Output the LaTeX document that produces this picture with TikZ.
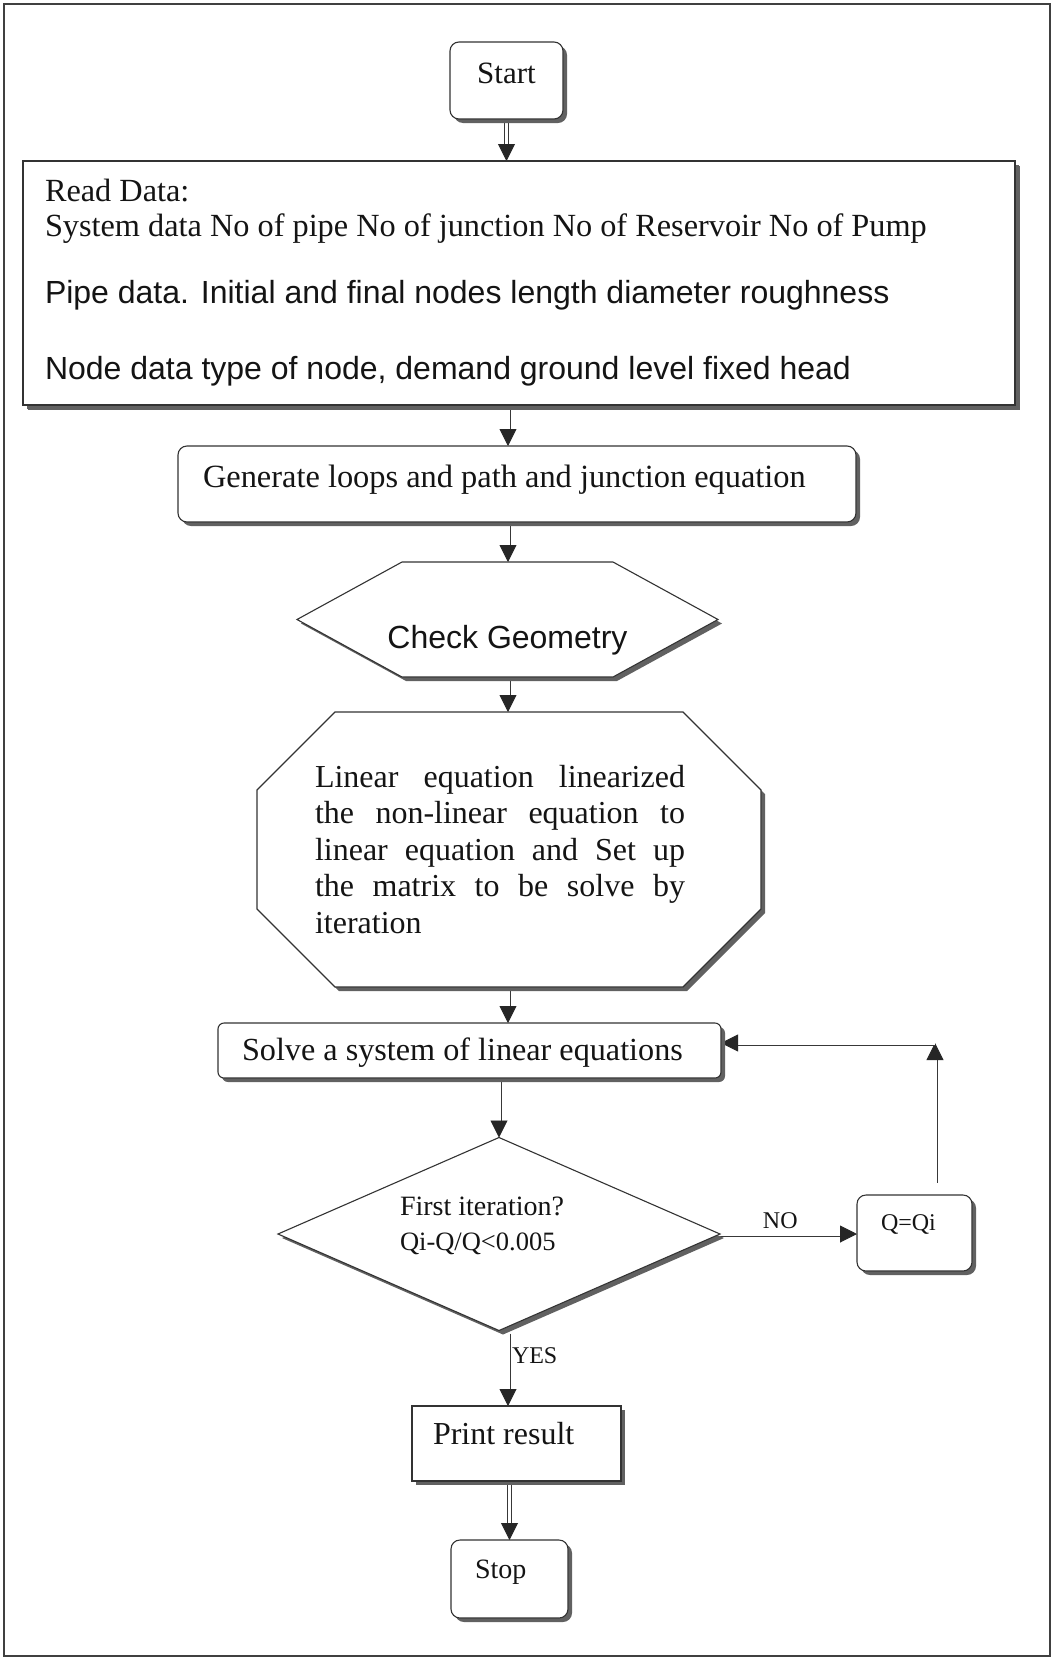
\documentclass[tikz,border=0pt]{standalone}
\usepackage{fontspec}
\setmainfont{Liberation Serif}
\newfontfamily\arialfont{Liberation Sans}
\usetikzlibrary{arrows.meta,shapes.geometric,shadows,backgrounds}
\newcommand\fsz[1]{\fontsize{#1}{#1}\selectfont}

\begin{document}
\begin{tikzpicture}[x=1pt,y=-1pt,
  every node/.style={inner sep=0pt, outer sep=0pt, text=black!92},
  castshadow/.style={drop shadow={shadow xshift=#1, shadow yshift=-#1, opacity=1, fill=black!62}},
  castshadow/.default=4pt,
  box/.style={draw=black!80, line width=1.1pt, fill=white, castshadow},
  rbox/.style={box, rounded corners=#1},
  rbox/.default=9pt,
  poly/.style={draw=black!80, line width=1.1pt, fill=white, castshadow},
  flow/.style={draw=white, line width=0.9pt,
    -{Triangle[length=17pt,width=17pt,color=black!85]},
    preaction={draw=black!78, -, double=white, double distance=3.2pt,
      line width=0.9pt, shorten >=10pt}},
  lbl/.style={font=\fsz{24}}
]
\useasboundingbox (0,0) rectangle (1053,1660);

% outer frame
\draw[black!75, line width=2pt] (4,4) rectangle (1050,1656);

\coordinate (axis) at (508,0);
\coordinate (turn) at (935,1043);

% terminals and process boxes
\node[rbox, minimum width=113pt, minimum height=77pt, font=\fsz{31},
      text height=21pt, text depth=16pt] (start) at (506.5,80.5) {Start};

\node[box, castshadow=5pt, minimum width=992pt, minimum height=244pt] (read) at (519,283) {};
\node[anchor=base west, font=\fsz{32.3}] (rd1) at (45,201) {Read Data:};
\node[anchor=base west, font=\fsz{32.3}] (rd2) at (45,236)
  {System data No of pipe No of junction No of Reservoir No of Pump};
\node[anchor=base west, font=\arialfont\fsz{32}] (rd3) at (45,303)
  {Pipe data. Initial and final nodes length diameter roughness};
\node[anchor=base west, font=\arialfont\fsz{32}] (rd4) at (45,379)
  {Node data type of node, demand ground level fixed head};

\node[rbox, minimum width=678pt, minimum height=76pt,
      font=\fsz{32.4}, text height=22pt, text depth=16pt] (gen) at (517,484)
  {\makebox[628pt][l]{Generate loops and path and junction equation}};

\node[minimum width=421pt, minimum height=115pt, font=\arialfont\fsz{32},
      text height=58pt, text depth=0pt] (geo) at (507.5,619.5) {Check Geometry};

\node[minimum width=486pt, minimum height=275pt, align=left,
      font=\fontsize{32}{36.5}\selectfont] (lin) at (500,849.5)
  {\makebox[370pt][s]{Linear equation linearized}\\
   \makebox[370pt][s]{the non-linear equation to}\\
   \makebox[370pt][s]{linear equation and Set up}\\
   \makebox[370pt][s]{the matrix to be solve by}\\
   \makebox[370pt][l]{iteration}};

\node[rbox=6pt, minimum width=503pt, minimum height=55pt,
      font=\fsz{32.2}, text height=22pt, text depth=3pt] (solve) at (469.5,1050.5)
  {\makebox[455pt][l]{Solve a system of linear equations}};

\node[box, diamond, minimum width=442pt, minimum height=193pt] (dec) at (499,1234) {};
\node[anchor=base west, font=\fsz{28}] (dect1) at (400,1215) {First iteration?};
\node[anchor=base west, font=\fsz{26.5}] (dect2) at (400,1250) {Qi-Q/Q<0.005};

\node[rbox, minimum width=115pt, minimum height=76pt, font=\fsz{24},
      text height=16pt, text depth=21pt] (qqi) at (914.5,1233)
  {\makebox[67pt][l]{Q=Qi}};

\node[box, minimum width=209pt, minimum height=75pt,
      font=\fsz{32}, text height=22pt, text depth=21pt] (print) at (516.5,1443.5)
  {\makebox[167pt][l]{Print result}};

\node[rbox, minimum width=117pt, minimum height=78pt,
      font=\fsz{28}, text height=19pt, text depth=21pt] (stop) at (509.5,1579)
  {\makebox[69pt][l]{Stop}};

\begin{scope}[on background layer]
  \fill[white] (0,0) rectangle (1053,1660);

  % connectors
  \draw[flow] (start.south) -- (start.south |- read.north);
  \draw[flow] (read.south -| axis) -- (gen.north -| axis);
  \draw[flow] (gen.south -| axis) -- (geo.north -| axis);
  \draw[flow] (geo.south -| axis) -- (lin.north -| axis);
  \draw[flow] (lin.south -| axis) -- (solve.north -| axis);
  \draw[flow] (solve.south -| dec.north) -- (dec.north);
  \draw[flow] (dec.east) -- (dec.east -| qqi.west)
    node[lbl, pos=0.44, anchor=base, yshift=6pt] (no) {NO};
  \draw[flow, shorten <=12pt] (qqi.north -| turn) -- (turn);
  \draw[flow] (turn) -- (turn -| solve.east);
  \draw[flow] ([yshift=-3pt]dec.south -| axis) -- (print.north -| axis)
    node[lbl, pos=0.42, anchor=base west, xshift=4pt] (yes) {YES};
  \draw[flow] (stop.north |- print.south) -- (stop.north);

  % hexagon round the geometry check
  \path[poly] (geo.west) -- ([xshift=105pt]geo.north west) -- ([xshift=-105pt]geo.north east)
    -- (geo.east) -- ([xshift=-105pt]geo.south east) -- ([xshift=105pt]geo.south west) -- cycle;

  % octagon round the linearisation step, its right side set a little wider
  \path[poly] ([yshift=-78pt]lin.north west) -- ([xshift=78pt]lin.north west)
    -- ([xshift=-60pt]lin.north east) -- ([xshift=18pt,yshift=-78pt]lin.north east)
    -- ([xshift=18pt,yshift=78pt]lin.south east) -- ([xshift=-60pt]lin.south east)
    -- ([xshift=78pt]lin.south west) -- ([yshift=78pt]lin.south west) -- cycle;
\end{scope}
\end{tikzpicture}
\end{document}
